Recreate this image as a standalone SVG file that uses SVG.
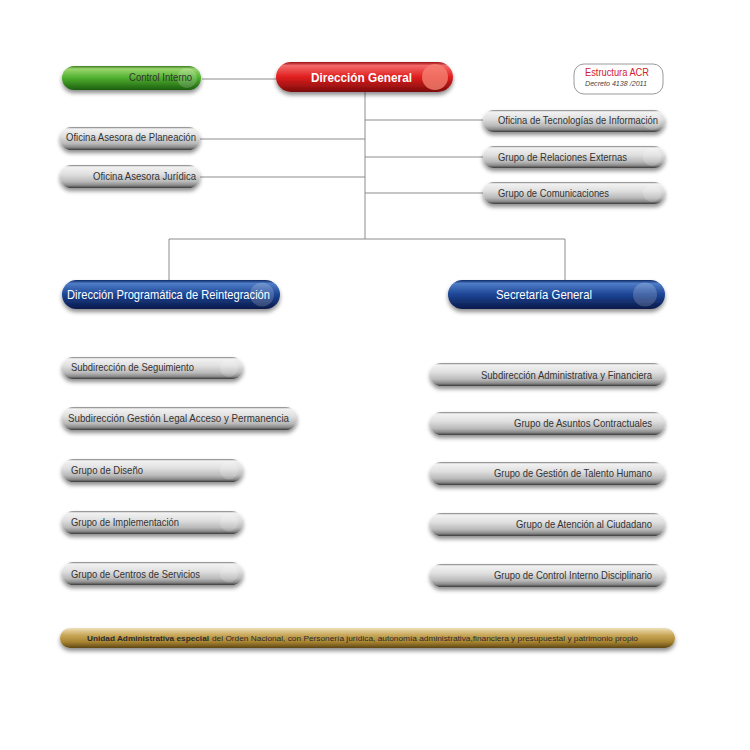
<svg xmlns="http://www.w3.org/2000/svg" width="750" height="750" viewBox="0 0 750 750">
<defs>
<linearGradient id="gGray" x1="0" y1="0" x2="0" y2="1">
<stop offset="0" stop-color="#7a7a7a"/>
<stop offset="0.08" stop-color="#f2f2f2"/>
<stop offset="0.4" stop-color="#e0e0e0"/>
<stop offset="0.72" stop-color="#b9b9b9"/>
<stop offset="0.88" stop-color="#8c8c8c"/>
<stop offset="1" stop-color="#3a3a3a"/>
</linearGradient>
<linearGradient id="gGreen" x1="0" y1="0" x2="0" y2="1">
<stop offset="0" stop-color="#3d7a22"/>
<stop offset="0.12" stop-color="#9ad66e"/>
<stop offset="0.5" stop-color="#4eaf2e"/>
<stop offset="1" stop-color="#1d5e10"/>
</linearGradient>
<linearGradient id="gRed" x1="0" y1="0" x2="0" y2="1">
<stop offset="0" stop-color="#9a1010"/>
<stop offset="0.12" stop-color="#f36a6a"/>
<stop offset="0.5" stop-color="#e11e1e"/>
<stop offset="1" stop-color="#7a0c0c"/>
</linearGradient>
<linearGradient id="gBlue" x1="0" y1="0" x2="0" y2="1">
<stop offset="0" stop-color="#0e2a66"/>
<stop offset="0.12" stop-color="#4f7cc6"/>
<stop offset="0.5" stop-color="#1c4595"/>
<stop offset="1" stop-color="#0a1a4a"/>
</linearGradient>
<linearGradient id="gGold" x1="0" y1="0" x2="0" y2="1">
<stop offset="0" stop-color="#efe0b8"/>
<stop offset="0.35" stop-color="#c9a85a"/>
<stop offset="0.7" stop-color="#a88430"/>
<stop offset="1" stop-color="#5e4615"/>
</linearGradient>
<filter id="sh" x="-10%" y="-40%" width="120%" height="200%">
<feDropShadow dx="0" dy="3" stdDeviation="2" flood-color="#000" flood-opacity="0.45"/>
</filter>
</defs>
<style>
.gray{fill:url(#gGray);filter:url(#sh)}
.green{fill:url(#gGreen);filter:url(#sh)}
.red{fill:url(#gRed);filter:url(#sh)}
.blue{fill:url(#gBlue);filter:url(#sh)}
.knob{fill:#ffffff;fill-opacity:0.18}
.knobr{fill:#f58070;fill-opacity:0.8}
.t{font-family:"Liberation Sans",Arial,sans-serif;font-size:11px;fill:#333}
.tw{font-family:"Liberation Sans",Arial,sans-serif;font-size:13px;fill:#fff}
.conn{stroke:#8c8c8c;stroke-width:1;fill:none}
</style>
<rect width="750" height="750" fill="#fff"/>

<g id="connectors" class="conn">
<path d="M202 79H276"/>
<path d="M365 92V239"/>
<path d="M200 139H365M200 177H365"/>
<path d="M365 120H483M365 157H483M365 193H483"/>
<path d="M169 280V239H565V280"/>
</g>

<g id="control-interno">
<rect class="green" x="62" y="66" width="139" height="24" rx="12"/>
<circle class="knob" cx="187" cy="78" r="10"/>
<text class="t" x="192" y="81" text-anchor="end" textLength="63" lengthAdjust="spacingAndGlyphs">Control Interno</text>
</g>

<g id="direccion-general">
<rect class="red" x="276" y="62" width="177" height="30" rx="15"/>
<circle class="knobr" cx="435" cy="77" r="13"/>
<text class="tw" x="311" y="82" font-weight="bold" textLength="101" lengthAdjust="spacingAndGlyphs">Dirección General</text>
</g>

<g id="estructura-acr">
<rect x="574" y="64" width="89" height="30" rx="10" fill="#fff" stroke="#9a9a9a" stroke-width="1"/>
<text x="585" y="76" font-family="Liberation Sans,Arial,sans-serif" font-size="10" fill="#d42030" textLength="64" lengthAdjust="spacingAndGlyphs">Estructura ACR</text>
<text x="585" y="86" font-family="Liberation Sans,Arial,sans-serif" font-size="7.5" font-style="italic" fill="#444" textLength="62" lengthAdjust="spacingAndGlyphs">Decreto 4138 /2011</text>
</g>

<g id="oficina-tecnologias">
<rect class="gray" x="483" y="110" width="182" height="22" rx="11"/>
<circle class="knob" cx="652" cy="121" r="9"/>
<text class="t" x="498" y="124" textLength="160" lengthAdjust="spacingAndGlyphs">Oficina de Tecnologías de Información</text>
</g>

<g id="grupo-relaciones-externas">
<rect class="gray" x="483" y="146" width="182" height="22" rx="11"/>
<circle class="knob" cx="652" cy="157" r="9"/>
<text class="t" x="498" y="161" textLength="129" lengthAdjust="spacingAndGlyphs">Grupo de Relaciones Externas</text>
</g>

<g id="grupo-comunicaciones">
<rect class="gray" x="483" y="182" width="182" height="22" rx="11"/>
<circle class="knob" cx="652" cy="193" r="9"/>
<text class="t" x="498" y="197" textLength="111" lengthAdjust="spacingAndGlyphs">Grupo de Comunicaciones</text>
</g>

<g id="oficina-planeacion">
<rect class="gray" x="60" y="127" width="140" height="23" rx="11.5"/>
<text class="t" x="66" y="141" textLength="130" lengthAdjust="spacingAndGlyphs">Oficina Asesora de Planeación</text>
</g>

<g id="oficina-juridica">
<rect class="gray" x="60" y="165" width="140" height="23" rx="11.5"/>
<text class="t" x="196" y="180" text-anchor="end" textLength="103" lengthAdjust="spacingAndGlyphs">Oficina Asesora Jurídica</text>
</g>

<g id="direccion-programatica">
<rect class="blue" x="62" y="280" width="218" height="29" rx="14.5"/>
<circle class="knob" cx="262" cy="294.5" r="12"/>
<text class="tw" x="67" y="299" font-size="12.5" textLength="203" lengthAdjust="spacingAndGlyphs">Dirección Programática de Reintegración</text>
</g>

<g id="secretaria-general">
<rect class="blue" x="448" y="280" width="217" height="29" rx="14.5"/>
<circle class="knob" cx="645" cy="294.5" r="12"/>
<text class="tw" x="496" y="299" font-size="12.5" textLength="96" lengthAdjust="spacingAndGlyphs">Secretaría General</text>
</g>

<g id="subdireccion-seguimiento">
<rect class="gray" x="62" y="357" width="181" height="22" rx="11"/>
<circle class="knob" cx="229" cy="368" r="9"/>
<text class="t" x="71" y="371" textLength="123" lengthAdjust="spacingAndGlyphs">Subdirección de Seguimiento</text>
</g>

<g id="subdireccion-gestion-legal">
<rect class="gray" x="62" y="407" width="235" height="23" rx="11.5"/>
<text class="t" x="68" y="422" textLength="221" lengthAdjust="spacingAndGlyphs">Subdirección Gestión Legal Acceso y Permanencia</text>
</g>

<g id="grupo-diseno">
<rect class="gray" x="62" y="459" width="181" height="23" rx="11.5"/>
<circle class="knob" cx="229" cy="470.5" r="9"/>
<text class="t" x="71" y="474" textLength="72" lengthAdjust="spacingAndGlyphs">Grupo de Diseño</text>
</g>

<g id="grupo-implementacion">
<rect class="gray" x="62" y="511" width="181" height="23" rx="11.5"/>
<circle class="knob" cx="229" cy="522.5" r="9"/>
<text class="t" x="71" y="526" textLength="108" lengthAdjust="spacingAndGlyphs">Grupo de Implementación</text>
</g>

<g id="grupo-centros-servicios">
<rect class="gray" x="62" y="562" width="181" height="23" rx="11.5"/>
<circle class="knob" cx="229" cy="573.5" r="9"/>
<text class="t" x="71" y="578" textLength="129" lengthAdjust="spacingAndGlyphs">Grupo de Centros de Servicios</text>
</g>

<g id="subdireccion-administrativa">
<rect class="gray" x="430" y="363" width="235" height="23" rx="11.5"/>
<text class="t" x="652" y="379" text-anchor="end" textLength="171" lengthAdjust="spacingAndGlyphs">Subdirección Administrativa y Financiera</text>
</g>

<g id="grupo-asuntos-contractuales">
<rect class="gray" x="430" y="412" width="235" height="23" rx="11.5"/>
<text class="t" x="652" y="427" text-anchor="end" textLength="138" lengthAdjust="spacingAndGlyphs">Grupo de Asuntos Contractuales</text>
</g>

<g id="grupo-talento-humano">
<rect class="gray" x="430" y="462" width="235" height="23" rx="11.5"/>
<text class="t" x="652" y="477" text-anchor="end" textLength="158" lengthAdjust="spacingAndGlyphs">Grupo de Gestión de Talento Humano</text>
</g>

<g id="grupo-atencion-ciudadano">
<rect class="gray" x="430" y="513" width="235" height="23" rx="11.5"/>
<text class="t" x="652" y="528" text-anchor="end" textLength="136" lengthAdjust="spacingAndGlyphs">Grupo de Atención al Ciudadano</text>
</g>

<g id="grupo-control-disciplinario">
<rect class="gray" x="430" y="564" width="235" height="23" rx="11.5"/>
<text class="t" x="652" y="579" text-anchor="end" textLength="158" lengthAdjust="spacingAndGlyphs">Grupo de Control Interno Disciplinario</text>
</g>

<g id="nota-unidad">
<rect x="60" y="628" width="615" height="20" rx="10" fill="url(#gGold)" filter="url(#sh)"/>
<text x="87" y="641" font-family="Liberation Sans,Arial,sans-serif" font-size="8" fill="#2a2a2a" font-weight="bold" textLength="122" lengthAdjust="spacingAndGlyphs">Unidad Administrativa especial</text>
<text x="212" y="641" font-family="Liberation Sans,Arial,sans-serif" font-size="8" fill="#2a2a2a" textLength="426" lengthAdjust="spacingAndGlyphs">del Orden Nacional, con Personería jurídica, autonomía administrativa,financiera y presupuestal y patrimonio propio</text>
</g>
</svg>
